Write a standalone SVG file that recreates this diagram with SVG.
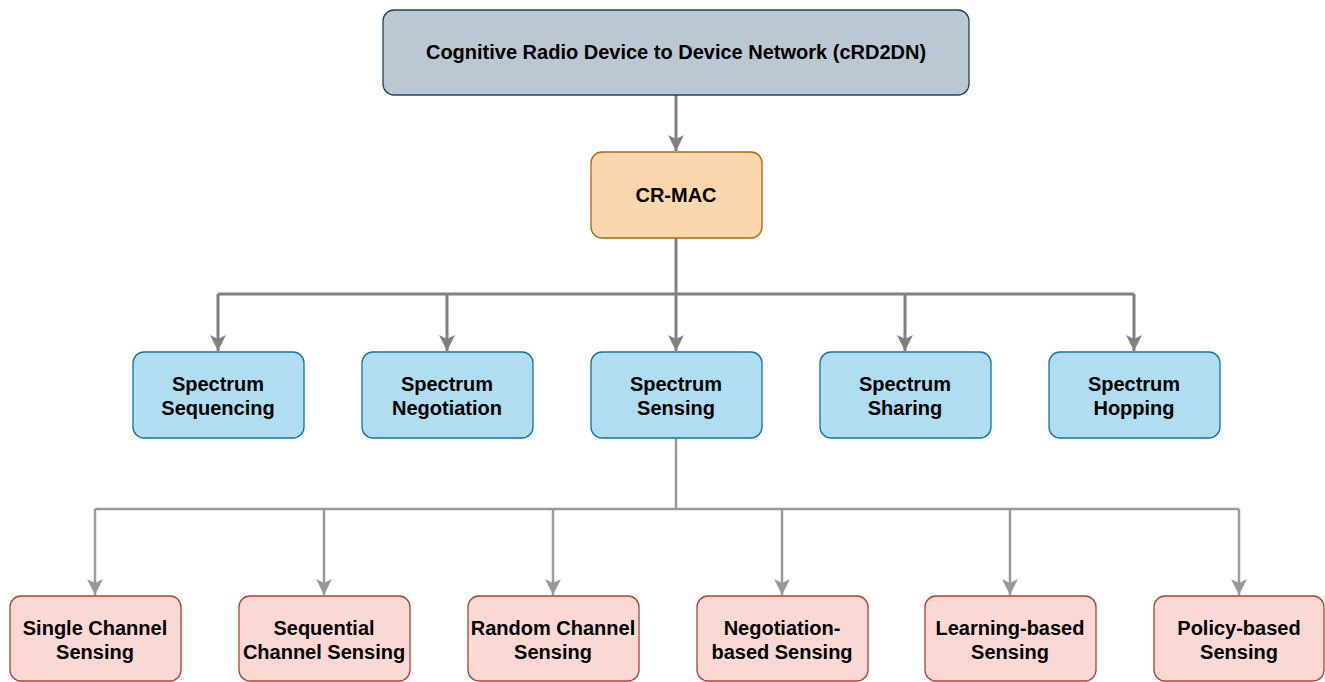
<svg xmlns="http://www.w3.org/2000/svg" width="1325" height="682" viewBox="0 0 1325 682">
<style>
text{font-family:"Liberation Sans",Arial,sans-serif;font-weight:bold;font-size:20px;fill:#000;text-anchor:middle}
.top{fill:#bac8d3;stroke:#23445d;stroke-width:1.3}
.mac{fill:#fad7ac;stroke:#b46504;stroke-width:1.3}
.mid{fill:#b1ddf0;stroke:#10739e;stroke-width:1.3}
.bot{fill:#fad9d5;stroke:#ae4132;stroke-width:1.3}
.c1{fill:none;stroke:#808080;stroke-width:3}
.c2{fill:none;stroke:#999999;stroke-width:2.5}
</style>
<defs>
<marker id="m1" markerUnits="userSpaceOnUse" markerWidth="16" markerHeight="18" refX="16" refY="8" orient="auto" viewBox="0 0 16 16">
<path d="M0,0 L16,8 L0,16 L4,8 Z" fill="#808080"/>
</marker>
<marker id="m2" markerUnits="userSpaceOnUse" markerWidth="16" markerHeight="18" refX="16" refY="8" orient="auto" viewBox="0 0 16 16">
<path d="M0,0 L16,8 L0,16 L4,8 Z" fill="#999999"/>
</marker>
</defs>
<g id="connectors">
<path class="c1" d="M676,95 V151" marker-end="url(#m1)"/>
<path class="c1" d="M676,238 V351" marker-end="url(#m1)"/>
<path class="c1" d="M218,294 H1134"/>
<path class="c1" d="M218,294 V351" marker-end="url(#m1)"/>
<path class="c1" d="M447,294 V351" marker-end="url(#m1)"/>
<path class="c1" d="M905,294 V351" marker-end="url(#m1)"/>
<path class="c1" d="M1134,294 V351" marker-end="url(#m1)"/>
<path class="c2" d="M676,438 V509"/>
<path class="c2" d="M95,509 H1239"/>
<path class="c2" d="M95,509 V595" marker-end="url(#m2)"/>
<path class="c2" d="M324,509 V595" marker-end="url(#m2)"/>
<path class="c2" d="M553,509 V595" marker-end="url(#m2)"/>
<path class="c2" d="M782,509 V595" marker-end="url(#m2)"/>
<path class="c2" d="M1010,509 V595" marker-end="url(#m2)"/>
<path class="c2" d="M1239,509 V595" marker-end="url(#m2)"/>
</g>
<g id="n-crd2dn"><rect class="top" x="383" y="10" width="586" height="85" rx="11"/><text x="676" y="59">Cognitive Radio Device to Device Network (cRD2DN)</text></g>
<g id="n-crmac"><rect class="mac" x="591" y="152" width="171" height="86" rx="11"/><text x="676" y="202">CR-MAC</text></g>
<g id="n-seq"><rect class="mid" x="133" y="352" width="171" height="86" rx="11"/><text x="218" y="391">Spectrum</text><text x="218" y="415">Sequencing</text></g>
<g id="n-neg"><rect class="mid" x="362" y="352" width="171" height="86" rx="11"/><text x="447" y="391">Spectrum</text><text x="447" y="415">Negotiation</text></g>
<g id="n-sens"><rect class="mid" x="591" y="352" width="171" height="86" rx="11"/><text x="676" y="391">Spectrum</text><text x="676" y="415">Sensing</text></g>
<g id="n-share"><rect class="mid" x="820" y="352" width="171" height="86" rx="11"/><text x="905" y="391">Spectrum</text><text x="905" y="415">Sharing</text></g>
<g id="n-hop"><rect class="mid" x="1049" y="352" width="171" height="86" rx="11"/><text x="1134" y="391">Spectrum</text><text x="1134" y="415">Hopping</text></g>
<g id="n-single"><rect class="bot" x="10" y="596" width="171" height="85" rx="11"/><text x="95" y="635">Single Channel</text><text x="95" y="659">Sensing</text></g>
<g id="n-sequential"><rect class="bot" x="239" y="596" width="171" height="85" rx="11"/><text x="324" y="635">Sequential</text><text x="324" y="659">Channel Sensing</text></g>
<g id="n-random"><rect class="bot" x="468" y="596" width="171" height="85" rx="11"/><text x="553" y="635">Random Channel</text><text x="553" y="659">Sensing</text></g>
<g id="n-negb"><rect class="bot" x="697" y="596" width="171" height="85" rx="11"/><text x="782" y="635">Negotiation-</text><text x="782" y="659">based Sensing</text></g>
<g id="n-learn"><rect class="bot" x="925" y="596" width="171" height="85" rx="11"/><text x="1010" y="635">Learning-based</text><text x="1010" y="659">Sensing</text></g>
<g id="n-policy"><rect class="bot" x="1154" y="596" width="170" height="85" rx="11"/><text x="1239" y="635">Policy-based</text><text x="1239" y="659">Sensing</text></g>
</svg>
